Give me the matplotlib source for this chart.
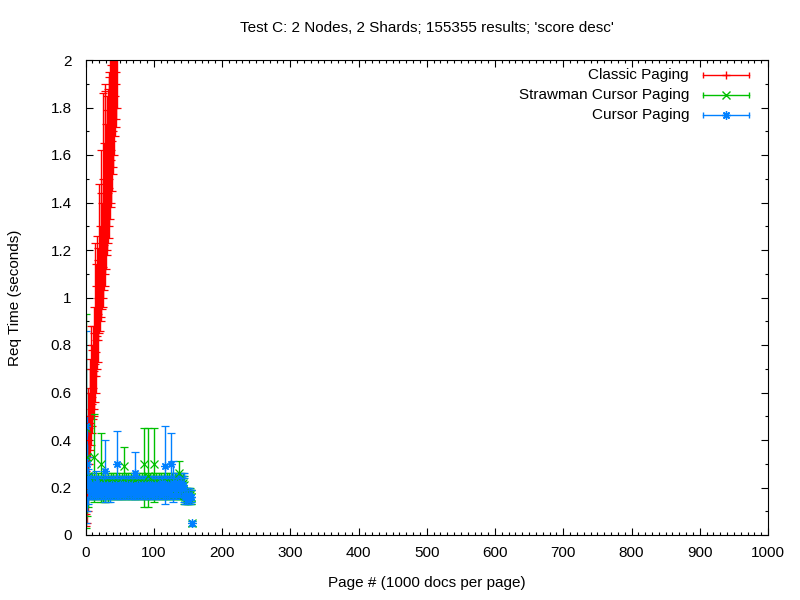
import numpy as np
import matplotlib.pyplot as plt
from matplotlib.ticker import MultipleLocator, FuncFormatter

plt.rcParams['font.family'] = ['Liberation Sans', 'DejaVu Sans']
plt.rcParams['font.size'] = 11

title = "Test C: 2 Nodes, 2 Shards; 155355 results; 'score desc'"
series_names = ['Classic Paging', 'Strawman Cursor Paging', 'Cursor Paging']
colors = ['#ff0000', '#00c000', '#0080ff']

# Classic paging, pages 1..46 (value, low, high)
classic_pages = list(range(1, 47))
classic_val = [0.09, 0.18, 0.30, 0.40, 0.45, 0.47, 0.50, 0.53, 0.55, 0.58,
               0.62, 0.67, 0.69, 0.72, 0.77, 0.82, 0.84, 0.93, 1.00, 1.02,
               1.04, 1.08, 1.10, 1.12, 1.13, 1.18, 1.22, 1.26, 1.30, 1.34,
               1.38, 1.42, 1.44, 1.46, 1.50, 1.55, 1.58, 1.62, 1.66, 1.70,
               1.75, 1.80, 1.85, 1.90, 1.95, 2.05]
classic_lo = [0.04, 0.05, 0.10, 0.22, 0.30, 0.33, 0.36, 0.38, 0.43, 0.46,
              0.49, 0.53, 0.50, 0.56, 0.60, 0.67, 0.70, 0.73, 0.82, 0.85,
              0.86, 0.90, 0.92, 0.95, 0.96, 1.00, 1.03, 1.05, 1.10, 1.12,
              1.18, 1.20, 1.23, 1.25, 1.30, 1.33, 1.38, 1.40, 1.45, 1.52,
              1.55, 1.60, 1.68, 1.72, 1.75, 1.80]
classic_hi = [0.27, 0.37, 0.45, 0.62, 0.60, 0.74, 0.70, 0.88, 0.80, 0.78,
              0.88, 0.85, 0.96, 1.23, 1.14, 1.05, 1.26, 1.16, 1.21, 1.48,
              1.30, 1.44, 1.62, 1.40, 1.86, 1.50, 1.65, 1.87, 1.90, 1.73,
              1.79, 1.85, 1.88, 1.95, 1.93, 2.10, 1.98, 2.15, 2.10, 2.20,
              2.20, 2.25, 2.30, 2.40, 2.40, 2.45]

# Strawman cursor paging, pages 1..156
cursor_pages = list(range(1, 157))
straw_val = [0.45, 0.33, 0.25, 0.22, 0.21, 0.20, 0.21, 0.20, 0.22, 0.21,
             0.20, 0.33, 0.21, 0.20, 0.22, 0.21, 0.20, 0.21, 0.22, 0.20,
             0.21, 0.30, 0.20, 0.21, 0.22, 0.20, 0.21, 0.20, 0.22, 0.21,
             0.20, 0.21, 0.22, 0.20, 0.21, 0.20, 0.22, 0.21, 0.20, 0.21,
             0.22, 0.20, 0.21, 0.20, 0.22, 0.21, 0.20, 0.21, 0.22, 0.20,
             0.21, 0.20, 0.22, 0.21, 0.20, 0.29, 0.21, 0.20, 0.22, 0.21,
             0.20, 0.21, 0.22, 0.20, 0.21, 0.20, 0.22, 0.21, 0.20, 0.21,
             0.22, 0.20, 0.21, 0.20, 0.22, 0.21, 0.20, 0.21, 0.22, 0.20,
             0.21, 0.20, 0.22, 0.21, 0.30, 0.20, 0.22, 0.21, 0.20, 0.21,
             0.25, 0.20, 0.21, 0.20, 0.22, 0.21, 0.20, 0.21, 0.22, 0.30,
             0.21, 0.20, 0.22, 0.21, 0.20, 0.21, 0.22, 0.20, 0.21, 0.20,
             0.22, 0.21, 0.20, 0.21, 0.22, 0.20, 0.21, 0.20, 0.22, 0.21,
             0.20, 0.21, 0.22, 0.20, 0.21, 0.20, 0.22, 0.21, 0.20, 0.21,
             0.22, 0.20, 0.21, 0.20, 0.22, 0.21, 0.26, 0.21, 0.22, 0.20,
             0.21, 0.20, 0.22, 0.21, 0.17, 0.16, 0.17, 0.16, 0.17, 0.16,
             0.17, 0.16, 0.17, 0.16, 0.16, 0.05]
straw_lo = [0.03, 0.08, 0.12, 0.16, 0.15, 0.16, 0.15, 0.16, 0.15, 0.16,
            0.15, 0.14, 0.16, 0.15, 0.16, 0.15, 0.16, 0.15, 0.16, 0.15,
            0.16, 0.14, 0.15, 0.16, 0.15, 0.14, 0.16, 0.15, 0.14, 0.16,
            0.15, 0.16, 0.14, 0.15, 0.16, 0.15, 0.16, 0.15, 0.16, 0.15,
            0.16, 0.15, 0.16, 0.15, 0.16, 0.15, 0.16, 0.15, 0.16, 0.15,
            0.16, 0.15, 0.16, 0.15, 0.16, 0.15, 0.16, 0.15, 0.16, 0.15,
            0.16, 0.15, 0.16, 0.15, 0.16, 0.15, 0.16, 0.15, 0.16, 0.15,
            0.16, 0.15, 0.16, 0.15, 0.16, 0.15, 0.16, 0.15, 0.16, 0.15,
            0.16, 0.15, 0.16, 0.15, 0.12, 0.15, 0.16, 0.15, 0.16, 0.15,
            0.12, 0.15, 0.16, 0.15, 0.16, 0.15, 0.16, 0.15, 0.16, 0.14,
            0.16, 0.15, 0.16, 0.15, 0.16, 0.15, 0.16, 0.15, 0.16, 0.15,
            0.16, 0.15, 0.16, 0.15, 0.16, 0.15, 0.16, 0.15, 0.16, 0.15,
            0.16, 0.15, 0.16, 0.15, 0.16, 0.15, 0.16, 0.15, 0.16, 0.15,
            0.16, 0.15, 0.16, 0.15, 0.16, 0.15, 0.16, 0.15, 0.16, 0.15,
            0.16, 0.15, 0.16, 0.15, 0.13, 0.13, 0.14, 0.13, 0.14, 0.13,
            0.14, 0.13, 0.14, 0.13, 0.13, 0.04]
straw_hi = [0.93, 0.40, 0.33, 0.26, 0.25, 0.24, 0.25, 0.24, 0.26, 0.25,
            0.24, 0.51, 0.25, 0.24, 0.26, 0.25, 0.24, 0.25, 0.26, 0.24,
            0.25, 0.43, 0.24, 0.25, 0.26, 0.24, 0.25, 0.24, 0.26, 0.25,
            0.24, 0.25, 0.26, 0.24, 0.25, 0.24, 0.26, 0.25, 0.24, 0.25,
            0.26, 0.24, 0.25, 0.24, 0.26, 0.25, 0.24, 0.25, 0.26, 0.24,
            0.25, 0.24, 0.26, 0.25, 0.24, 0.37, 0.25, 0.24, 0.26, 0.25,
            0.24, 0.25, 0.26, 0.24, 0.25, 0.24, 0.26, 0.25, 0.24, 0.25,
            0.26, 0.24, 0.25, 0.24, 0.26, 0.25, 0.24, 0.25, 0.26, 0.24,
            0.25, 0.24, 0.26, 0.25, 0.45, 0.24, 0.26, 0.25, 0.24, 0.25,
            0.45, 0.24, 0.25, 0.24, 0.26, 0.25, 0.24, 0.25, 0.26, 0.45,
            0.25, 0.24, 0.26, 0.25, 0.24, 0.25, 0.26, 0.24, 0.25, 0.24,
            0.26, 0.25, 0.24, 0.25, 0.26, 0.24, 0.25, 0.24, 0.26, 0.25,
            0.24, 0.25, 0.26, 0.24, 0.25, 0.24, 0.26, 0.25, 0.24, 0.25,
            0.26, 0.24, 0.25, 0.24, 0.26, 0.25, 0.31, 0.25, 0.26, 0.24,
            0.25, 0.24, 0.26, 0.25, 0.20, 0.19, 0.20, 0.19, 0.20, 0.19,
            0.20, 0.19, 0.20, 0.19, 0.19, 0.06]

# Cursor paging, pages 1..156
cursor_val = [0.46, 0.30, 0.24, 0.22, 0.21, 0.20, 0.19, 0.21, 0.20, 0.19,
              0.20, 0.21, 0.19, 0.20, 0.22, 0.19, 0.20, 0.21, 0.19, 0.20,
              0.20, 0.19, 0.21, 0.20, 0.19, 0.20, 0.21, 0.27, 0.20, 0.19,
              0.20, 0.21, 0.19, 0.20, 0.20, 0.19, 0.21, 0.20, 0.19, 0.20,
              0.21, 0.20, 0.19, 0.20, 0.21, 0.30, 0.20, 0.19, 0.20, 0.21,
              0.19, 0.20, 0.21, 0.20, 0.19, 0.20, 0.21, 0.19, 0.20, 0.20,
              0.21, 0.19, 0.20, 0.21, 0.20, 0.19, 0.20, 0.21, 0.20, 0.19,
              0.20, 0.26, 0.19, 0.20, 0.21, 0.20, 0.19, 0.20, 0.21, 0.20,
              0.19, 0.20, 0.21, 0.20, 0.19, 0.20, 0.21, 0.20, 0.19, 0.20,
              0.21, 0.20, 0.19, 0.20, 0.21, 0.20, 0.19, 0.21, 0.20, 0.19,
              0.20, 0.21, 0.20, 0.19, 0.20, 0.21, 0.20, 0.19, 0.20, 0.21,
              0.20, 0.22, 0.19, 0.20, 0.21, 0.29, 0.20, 0.21, 0.19, 0.20,
              0.21, 0.20, 0.19, 0.20, 0.30, 0.21, 0.20, 0.22, 0.20, 0.21,
              0.20, 0.21, 0.22, 0.20, 0.21, 0.22, 0.20, 0.21, 0.20, 0.22,
              0.21, 0.20, 0.21, 0.20, 0.17, 0.16, 0.16, 0.17, 0.16, 0.16,
              0.16, 0.17, 0.16, 0.16, 0.16, 0.05]
cursor_lo = [0.05, 0.10, 0.13, 0.15, 0.16, 0.16, 0.15, 0.17, 0.16, 0.15,
             0.16, 0.17, 0.15, 0.16, 0.17, 0.15, 0.16, 0.17, 0.15, 0.16,
             0.16, 0.15, 0.17, 0.16, 0.15, 0.16, 0.17, 0.14, 0.16, 0.15,
             0.16, 0.17, 0.15, 0.16, 0.16, 0.14, 0.17, 0.16, 0.15, 0.16,
             0.17, 0.16, 0.15, 0.16, 0.17, 0.15, 0.16, 0.15, 0.16, 0.17,
             0.15, 0.16, 0.17, 0.16, 0.15, 0.16, 0.17, 0.15, 0.16, 0.16,
             0.17, 0.15, 0.16, 0.17, 0.16, 0.15, 0.16, 0.17, 0.16, 0.15,
             0.16, 0.15, 0.15, 0.16, 0.17, 0.16, 0.15, 0.16, 0.17, 0.16,
             0.15, 0.16, 0.17, 0.16, 0.15, 0.16, 0.17, 0.16, 0.15, 0.16,
             0.17, 0.16, 0.15, 0.16, 0.17, 0.16, 0.15, 0.17, 0.16, 0.15,
             0.16, 0.17, 0.16, 0.15, 0.16, 0.17, 0.16, 0.15, 0.16, 0.17,
             0.16, 0.16, 0.15, 0.16, 0.17, 0.13, 0.16, 0.17, 0.15, 0.16,
             0.17, 0.16, 0.15, 0.16, 0.16, 0.17, 0.16, 0.14, 0.16, 0.17,
             0.16, 0.17, 0.15, 0.16, 0.17, 0.16, 0.16, 0.17, 0.16, 0.17,
             0.17, 0.16, 0.17, 0.16, 0.14, 0.13, 0.14, 0.14, 0.13, 0.14,
             0.14, 0.14, 0.13, 0.14, 0.14, 0.04]
cursor_hi = [0.86, 0.50, 0.33, 0.28, 0.25, 0.24, 0.24, 0.26, 0.24, 0.23,
             0.24, 0.25, 0.23, 0.24, 0.27, 0.23, 0.24, 0.25, 0.23, 0.24,
             0.24, 0.23, 0.25, 0.24, 0.23, 0.24, 0.25, 0.40, 0.24, 0.23,
             0.24, 0.25, 0.23, 0.24, 0.24, 0.23, 0.25, 0.24, 0.23, 0.24,
             0.25, 0.24, 0.23, 0.24, 0.25, 0.44, 0.24, 0.23, 0.24, 0.25,
             0.23, 0.24, 0.25, 0.24, 0.23, 0.24, 0.25, 0.23, 0.24, 0.24,
             0.25, 0.23, 0.24, 0.25, 0.24, 0.23, 0.24, 0.25, 0.24, 0.23,
             0.24, 0.35, 0.23, 0.24, 0.25, 0.24, 0.23, 0.24, 0.25, 0.24,
             0.23, 0.24, 0.25, 0.24, 0.23, 0.24, 0.25, 0.24, 0.23, 0.24,
             0.25, 0.24, 0.23, 0.24, 0.25, 0.24, 0.23, 0.25, 0.24, 0.23,
             0.24, 0.25, 0.24, 0.23, 0.24, 0.25, 0.24, 0.23, 0.24, 0.25,
             0.24, 0.25, 0.23, 0.24, 0.25, 0.46, 0.24, 0.25, 0.23, 0.24,
             0.25, 0.24, 0.23, 0.24, 0.43, 0.25, 0.24, 0.31, 0.24, 0.25,
             0.24, 0.25, 0.26, 0.24, 0.25, 0.26, 0.24, 0.25, 0.24, 0.26,
             0.25, 0.24, 0.25, 0.24, 0.26, 0.19, 0.19, 0.20, 0.19, 0.19,
             0.19, 0.20, 0.19, 0.19, 0.19, 0.06]

x_ticks = list(range(0, 1001, 100))
y_ticks = [0, 0.2, 0.4, 0.6, 0.8, 1.0, 1.2, 1.4, 1.6, 1.8, 2.0]
markers = ['+', 'x', (8, 2, 0)]

series = [
    (classic_pages, classic_val, classic_lo, classic_hi),
    (cursor_pages, straw_val, straw_lo, straw_hi),
    (cursor_pages, cursor_val, cursor_lo, cursor_hi),
]

fig = plt.figure(figsize=(8, 6), dpi=100)
ax = fig.add_axes([85.5 / 800, 65 / 600, 682.5 / 800, 475 / 600])

for (x, v, lo, hi), color, mk in zip(series, colors, markers):
    v = np.array(v)
    err = [v - np.array(lo), np.array(hi) - v]
    ax.errorbar(x, v, yerr=err, fmt='', marker=mk, linestyle='none',
                color=color, ecolor=color, elinewidth=1, capsize=3,
                capthick=1, markersize=6, markeredgewidth=0.9)

ax.set_xlim(0, 1000)
ax.set_ylim(0, 2)
ax.set_xticks(x_ticks)
ax.set_yticks(y_ticks)
ax.yaxis.set_major_formatter(FuncFormatter(lambda v, p: '%g' % round(v, 1)))
ax.xaxis.set_minor_locator(MultipleLocator(10))
ax.yaxis.set_minor_locator(MultipleLocator(0.1))
ax.tick_params(which='both', direction='in', top=True, right=True, width=0.8)
ax.tick_params(which='major', length=5)
ax.tick_params(which='minor', length=2.5)
ax.tick_params(axis='y', which='major', pad=10)
ax.tick_params(axis='x', which='major', pad=8)
for s in ax.spines.values():
    s.set_linewidth(0.8)

# legend drawn gnuplot style: text, then a horizontal error bar sample
for i, (name, color, mk) in enumerate(zip(series_names, colors, markers)):
    yy = (535 - (75 + 20 * i)) / 475
    x0, x1, xc = (703 - 85.5) / 682.5, (749 - 85.5) / 682.5, (726 - 85.5) / 682.5
    ax.text((689 - 85.5) / 682.5, yy, name, transform=ax.transAxes,
            ha='right', va='center')
    ax.plot([x0, x1], [yy, yy], color=color, lw=1, transform=ax.transAxes)
    ax.plot([x0, x1], [yy, yy], color=color, marker='|', ms=5, mew=1,
            linestyle='none', transform=ax.transAxes)
    ax.plot([xc], [yy], color=color, marker=mk, ms=6, mew=1,
            linestyle='none', transform=ax.transAxes)

fig.text(426.75 / 800, 1 - 28 / 600, title, ha='center', va='center')
fig.text(426.75 / 800, 1 - 583 / 600, 'Page # (1000 docs per page)',
         ha='center', va='center')
fig.text(15 / 800, 1 - 297.5 / 600, 'Req Time (seconds)', rotation=90,
         ha='center', va='center')

fig.savefig('out.png', dpi=100)
